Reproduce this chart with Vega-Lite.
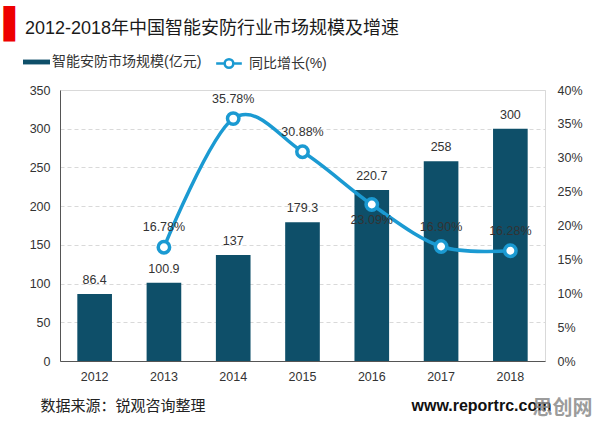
{
  "$schema": "https://vega.github.io/schema/vega-lite/v6.json",
  "width": 485,
  "height": 271,
  "autosize": {"type": "none"},
  "padding": {"left": 60, "top": 90, "right": 51, "bottom": 68},
  "background": "white",
  "config": {
    "font": "Liberation Sans, Arial, Noto Sans CJK SC, sans-serif",
    "view": {"stroke": "#d9d9d9", "strokeWidth": 1}
  },
  "title": {
    "text": "2012-2018年中国智能安防行业市场规模及增速",
    "anchor": "start",
    "frame": "group",
    "fontSize": 18,
    "fontWeight": "normal",
    "color": "#1a1a1a",
    "dx": -35,
    "dy": 29,
    "offset": 0
  },
  "data": {
    "values": [
      {"year": "2012", "value": 86.4, "pct": null},
      {"year": "2013", "value": 100.9, "pct": 0.1678},
      {"year": "2014", "value": 137, "pct": 0.3578},
      {"year": "2015", "value": 179.3, "pct": 0.3088},
      {"year": "2016", "value": 220.7, "pct": 0.2309},
      {"year": "2017", "value": 258, "pct": 0.169},
      {"year": "2018", "value": 300, "pct": 0.1628}
    ]
  },
  "layer": [
    {
      "encoding": {
        "x": {
          "field": "year",
          "type": "ordinal",
          "scale": {"paddingInner": 0.5, "paddingOuter": 0.25},
          "axis": {
            "title": "数据来源：锐观咨询整理",
            "titleX": -20,
            "titleY": 44,
            "titleAlign": "left",
            "titleBaseline": "middle",
            "titleFontSize": 15,
            "titleFontWeight": "normal",
            "titleColor": "#222",
            "labelAngle": 0,
            "labelFontSize": 12.5,
            "labelColor": "#333",
            "labelPadding": 9,
            "ticks": false,
            "domainColor": "#555",
            "grid": false
          }
        },
        "y": {
          "field": "value",
          "type": "quantitative",
          "scale": {"domain": [0, 350]},
          "axis": {
            "values": [0, 50, 100, 150, 200, 250, 300, 350],
            "title": "▌",
            "titleAngle": 0,
            "titleX": -57,
            "titleY": -66,
            "titleAlign": "left",
            "titleBaseline": "middle",
            "titleFontSize": 30,
            "titleFont": "DejaVu Sans",
            "titleFontWeight": "normal",
            "titleColor": "#ee0000",
            "labelFontSize": 12.5,
            "labelColor": "#333",
            "labelPadding": 10,
            "ticks": false,
            "domainColor": "#555",
            "gridDash": [4, 3],
            "gridColor": "#d9d9d9"
          }
        }
      },
      "layer": [
        {
          "mark": {"type": "bar", "color": "#0e4f69"},
          "encoding": {
            "color": {
              "datum": "智能安防市场规模(亿元)",
              "scale": {"range": ["#0e4f69"]},
              "legend": {
                "orient": "none",
                "legendX": -37,
                "legendY": -41.5,
                "title": null,
                "padding": 0,
                "symbolType": "M-1,-0.18H1V0.18H-1Z",
                "symbolSize": 729,
                "symbolStrokeWidth": 0,
                "labelFontSize": 14,
                "labelColor": "#333",
                "labelOffset": 2
              }
            }
          }
        },
        {
          "mark": {"type": "text", "baseline": "middle", "dy": -14, "fontSize": 12.5, "color": "#333"},
          "encoding": {"text": {"field": "value", "type": "quantitative"}}
        }
      ]
    },
    {
      "transform": [{"filter": "datum.pct != null"}],
      "encoding": {
        "x": {
          "field": "year",
          "type": "ordinal",
          "axis": {
            "orient": "bottom",
            "title": "www.reportrc.com",
            "titleX": 351,
            "titleY": 44,
            "titleAlign": "left",
            "titleBaseline": "middle",
            "titleFontSize": 16,
            "titleFontWeight": "bold",
            "titleColor": "#111",
            "labels": false,
            "ticks": false,
            "domain": false,
            "grid": false
          }
        },
        "y": {
          "field": "pct",
          "type": "quantitative",
          "scale": {"domain": [0, 0.4]},
          "axis": {
            "orient": "right",
            "values": [0, 0.05, 0.1, 0.15, 0.2, 0.25, 0.3, 0.35, 0.4],
            "format": ".0%",
            "grid": false,
            "domain": false,
            "ticks": false,
            "labelPadding": 12,
            "labelFontSize": 12.5,
            "labelColor": "#333",
            "title": "思创网",
            "titleAngle": 0,
            "titleX": -13,
            "titleY": 318,
            "titleAlign": "left",
            "titleBaseline": "middle",
            "titleFontSize": 20,
            "titleFontWeight": "bold",
            "titleColor": "#8a8a8a",
            "titleOpacity": 0.85
          }
        }
      },
      "layer": [
        {
          "mark": {"type": "line", "interpolate": "cardinal", "strokeWidth": 3.5},
          "encoding": {
            "stroke": {
              "datum": "同比增长(%)",
              "scale": {"range": ["#1b9ad2"]},
              "legend": {
                "orient": "none",
                "legendX": 154,
                "legendY": -41.5,
                "title": null,
                "padding": 0,
                "symbolType": "M-0.95,0H-0.32M0.32,0H0.95M0.32,0A0.32,0.32 0 1,1 -0.32,0A0.32,0.32 0 1,1 0.32,0",
                "symbolSize": 729,
                "symbolStrokeWidth": 2.5,
                "symbolFillColor": "white",
                "labelFontSize": 14,
                "labelColor": "#333",
                "labelOffset": 5,
                "encode": {"symbols": {"update": {"fill": {"value": "white"}, "fillOpacity": {"value": 1}}}}
              }
            }
          }
        },
        {
          "mark": {"type": "point", "filled": true, "fill": "white", "stroke": "#1b9ad2", "strokeWidth": 3.5, "size": 130, "opacity": 1}
        },
        {
          "transform": [{"filter": "datum.year != '2016'"}],
          "mark": {"type": "text", "baseline": "middle", "dy": -20, "fontSize": 12.5, "color": "#333"},
          "encoding": {"text": {"field": "pct", "type": "quantitative", "format": ".2%"}}
        },
        {
          "transform": [{"filter": "datum.year == '2016'"}],
          "mark": {"type": "text", "baseline": "middle", "dy": 15, "fontSize": 12.5, "color": "#333"},
          "encoding": {"text": {"field": "pct", "type": "quantitative", "format": ".2%"}}
        }
      ]
    }
  ],
  "resolve": {"scale": {"y": "independent"}, "axis": {"x": "independent"}}
}
